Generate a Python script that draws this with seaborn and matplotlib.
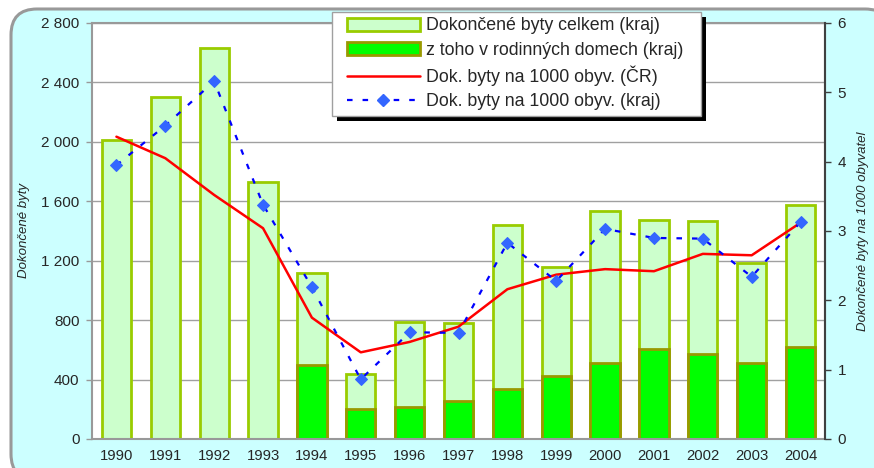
import numpy as np
import pandas as pd
import matplotlib
matplotlib.use('Agg')
import matplotlib.pyplot as plt
from matplotlib.patches import FancyBboxPatch, Patch, Rectangle
from matplotlib.lines import Line2D
from matplotlib.transforms import IdentityTransform
from matplotlib.ticker import FuncFormatter
import seaborn as sns

# Data
roky = ['1990', '1991', '1992', '1993', '1994', '1995', '1996', '1997',
        '1998', '1999', '2000', '2001', '2002', '2003', '2004']
byty_celkem = [2015, 2300, 2630, 1730, 1117, 437, 787, 781,
               1440, 1158, 1537, 1474, 1467, 1187, 1577]
byty_rd = [np.nan, np.nan, np.nan, np.nan, 498, 202, 217, 256,
           339, 424, 514, 606, 572, 509, 617]
na_1000_cr = [4.36, 4.05, 3.52, 3.04, 1.75, 1.25, 1.40, 1.62,
              2.16, 2.37, 2.45, 2.42, 2.67, 2.65, 3.12]
na_1000_kraj = [3.95, 4.52, 5.16, 3.38, 2.19, 0.86, 1.54, 1.53,
                2.83, 2.28, 3.03, 2.90, 2.89, 2.34, 3.13]

legenda = ['Dokončené byty celkem (kraj)',
           'z toho v rodinných domech (kraj)',
           'Dok. byty na 1000 obyv. (ČR)',
           'Dok. byty na 1000 obyv. (kraj)']

sns.set_style('white')
plt.rcParams['font.family'] = ['Liberation Sans', 'DejaVu Sans']

df = pd.DataFrame({'rok': roky, 'celkem': byty_celkem, 'rd': byty_rd})
df_rd = df.dropna(subset=['rd'])

W, H = 874, 468
fig = plt.figure(figsize=(W / 100, H / 100), dpi=100, facecolor='white')

# zaoblené pozadí grafu
pozadi = FancyBboxPatch((11, -12), 880, 471, boxstyle='round,pad=0,rounding_size=26',
                        transform=IdentityTransform(), facecolor='#CCFFFF',
                        edgecolor='#999999', linewidth=2.2, zorder=-5)
fig.patches.append(pozadi)

ax = fig.add_axes([92 / W, 29 / H, 733 / W, 416 / H])
ax.set_facecolor('white')

sns.barplot(data=df, x='rok', y='celkem', order=roky, ax=ax, color='#CCFFCC',
            edgecolor='#99CC00', linewidth=2, saturation=1, width=0.6, errorbar=None)
sns.barplot(data=df_rd, x='rok', y='rd', order=roky, ax=ax, color='#00FF00',
            edgecolor='#999900', linewidth=2, saturation=1, width=0.6, errorbar=None)

ax.set_ylim(0, 2800)
ax.set_yticks(range(0, 2801, 400))
ax.yaxis.set_major_formatter(FuncFormatter(lambda v, p: f'{v:,.0f}'.replace(',', ' ')))
ax.grid(axis='y', color='#A0A0A0', linewidth=1)
ax.set_axisbelow(True)
ax.set_xlim(-0.5, len(roky) - 0.5)
ax.set_xticks(range(len(roky)))
ax.set_xticklabels(roky)
ax.set_xticks(np.arange(-0.5, len(roky)), minor=True)
ax.tick_params(axis='x', which='major', length=0, pad=7, labelsize=10.7)
ax.tick_params(axis='x', which='minor', length=4, direction='out', color='#999999', width=1)
ax.tick_params(axis='y', length=4, direction='out', color='#999999', width=1, labelsize=11, pad=5, left=True)
ax.set_xlabel('')
ax.set_ylabel('Dokončené byty', fontsize=9.5, style='italic', labelpad=8)
for s in ax.spines.values():
    s.set_color('#999999')
    s.set_linewidth(1.5)

# druhá osa - byty na 1000 obyvatel
ax2 = ax.twinx()
poz = np.arange(len(roky))
sns.lineplot(x=poz, y=na_1000_cr, ax=ax2, color='#FF0000', linewidth=1.8)
sns.lineplot(x=poz, y=na_1000_kraj, ax=ax2, color='#0000FF', linewidth=1.6,
             linestyle=(0, (2.5, 4.5)), marker='D', markersize=6.5,
             markerfacecolor='#3366FF', markeredgecolor='#3366FF')
ax2.set_ylim(0, 6)
ax2.set_yticks(range(0, 7))
ax2.tick_params(axis='y', length=4, direction='out', color='#404040', width=1, labelsize=11, pad=5, right=True)
ax2.set_ylabel('Dokončené byty na 1000 obyvatel', fontsize=9.5, style='italic', labelpad=8, rotation=90)
ax2.set_xlabel('')
for s in ax2.spines.values():
    s.set_visible(False)
ax2.spines['right'].set_visible(True)
ax2.spines['right'].set_color('#404040')
ax2.spines['right'].set_linewidth(1.5)

# rámeček legendy se stínem
stin = Rectangle((337, H - 121), 369, 104, transform=IdentityTransform(),
                 facecolor='black', edgecolor='none', zorder=3)
ramec = Rectangle((332, H - 116), 369, 104, transform=IdentityTransform(),
                  facecolor='white', edgecolor='#A0A0A0', linewidth=1, zorder=4)
fig.patches.extend([stin, ramec])

handles = [Patch(facecolor='#CCFFCC', edgecolor='#99CC00', linewidth=2),
           Patch(facecolor='#00FF00', edgecolor='#999900', linewidth=2),
           Line2D([], [], color='#FF0000', linewidth=1.8),
           Line2D([], [], color='#0000FF', linewidth=1.6, linestyle=(0, (2.5, 4.5)),
                  marker='D', markersize=6.5, markerfacecolor='#3366FF', markeredgecolor='#3366FF')]
fig.legend(handles, legenda, loc='upper left', bbox_to_anchor=(347 / W, 1 - 17.5 / H),
           bbox_transform=fig.transFigure, fontsize=12.8, frameon=False,
           borderaxespad=0, borderpad=0, handlelength=4.1, handletextpad=0.35,
           labelspacing=0.4)

fig.savefig('out.png', dpi=100)
